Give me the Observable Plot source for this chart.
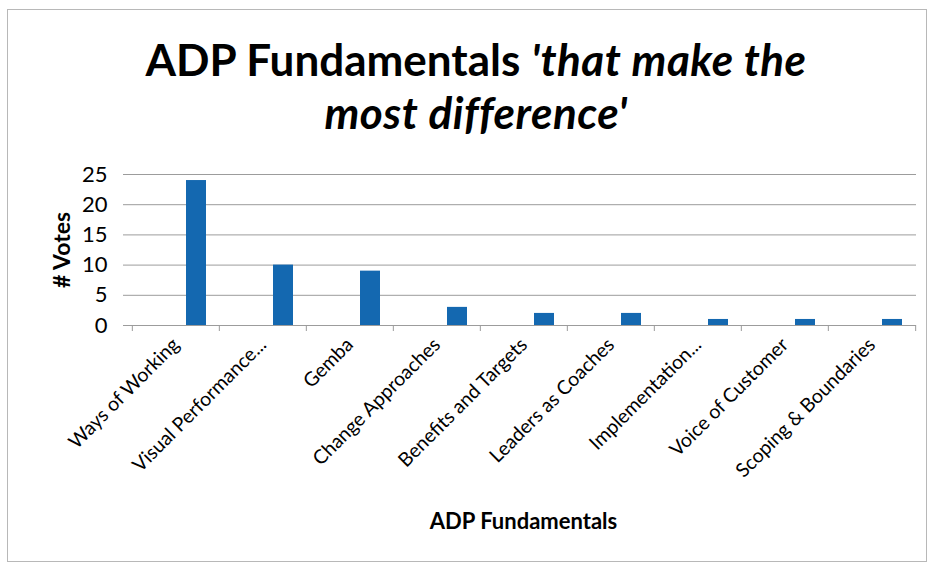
<!DOCTYPE html>
<html>
<head>
<meta charset="utf-8">
<script src="https://cdn.jsdelivr.net/npm/d3@7"></script>
<script src="https://cdn.jsdelivr.net/npm/@observablehq/plot@0.6"></script>
<style>
  body { margin: 0; background: #fff; }
  #wrap { position: relative; width: 934px; height: 565px; overflow: hidden; background: #fff; font-family: Lato, "Open Sans", sans-serif; }
  #border { position: absolute; left: 7px; top: 9px; width: 918px; height: 551px; border: 1px solid #b8b8b8; pointer-events: none; }
  #title { position: absolute; left: 18px; top: 33px; width: 916px; text-align: center; font-weight: bold; font-size: 44px; line-height: 53px; color: #000; }
  #title i { letter-spacing: 0.5px; }
  #plot { position: absolute; left: 0; top: 0; }
</style>
</head>
<body>
<div id="wrap">
  <div id="plot"></div>
  <div id="title">ADP Fundamentals <i>'that make the<br>most difference'</i></div>
  <div id="border"></div>
</div>
<script>
const categories = ["Ways of Working", "Visual Performance...", "Gemba", "Change Approaches", "Benefits and Targets", "Leaders as Coaches", "Implementation...", "Voice of Customer", "Scoping & Boundaries"];
const votes = [24, 10, 9, 3, 2, 2, 1, 1, 1];
const yTicks = [0, 5, 10, 15, 20, 25];
const yLabel = "# Votes";
const xLabel = "ADP Fundamentals";

const data = categories.map((c, i) => ({category: c, votes: votes[i]}));

const W = 934, H = 565, mL = 130, mR = 18, mT = 174, mB = 240;
const bw = (W - mL - mR) / categories.length;
const font = "Lato, 'Open Sans', sans-serif";

const chart = Plot.plot({
  width: W,
  height: H,
  marginLeft: mL,
  marginRight: mR,
  marginTop: mT,
  marginBottom: mB,
  style: {fontFamily: font, color: "#000", background: "transparent"},
  x: {domain: categories, padding: 0, axis: null},
  y: {domain: [0, 25], axis: null},
  marks: [
    Plot.gridY(yTicks, {stroke: "#9c9c9c", strokeOpacity: 1}),
    Plot.axisY({ticks: yTicks, tickSize: 7, tickPadding: 16, fontSize: 22, stroke: "#9c9c9c", label: null}),
    Plot.barY(data, {x: "category", y: "votes", fill: "#1468b0", insetLeft: 54, insetRight: 13}),
    Plot.ruleY([0], {stroke: "#9c9c9c"}),
    Plot.axisX({ticks: categories, tickSize: 6, text: null, dx: -bw / 2, stroke: "#9c9c9c", label: null}),
    Plot.axisX({ticks: categories.slice(-1), tickSize: 6, text: null, dx: bw / 2, stroke: "#9c9c9c", label: null}),
    Plot.axisX({ticks: categories, tickSize: 0, tickPadding: 16, tickRotate: -45, fontSize: 19.5, label: null}),
    Plot.text([yLabel], {frameAnchor: "left", textAnchor: "middle", dx: -68, rotate: -90, fontSize: 23, fontWeight: "bold", text: d => d}),
    Plot.text([xLabel], {frameAnchor: "bottom", dy: 203, fontSize: 22, fontWeight: "bold", text: d => d})
  ]
});
document.getElementById("plot").appendChild(chart);
</script>
</body>
</html>
